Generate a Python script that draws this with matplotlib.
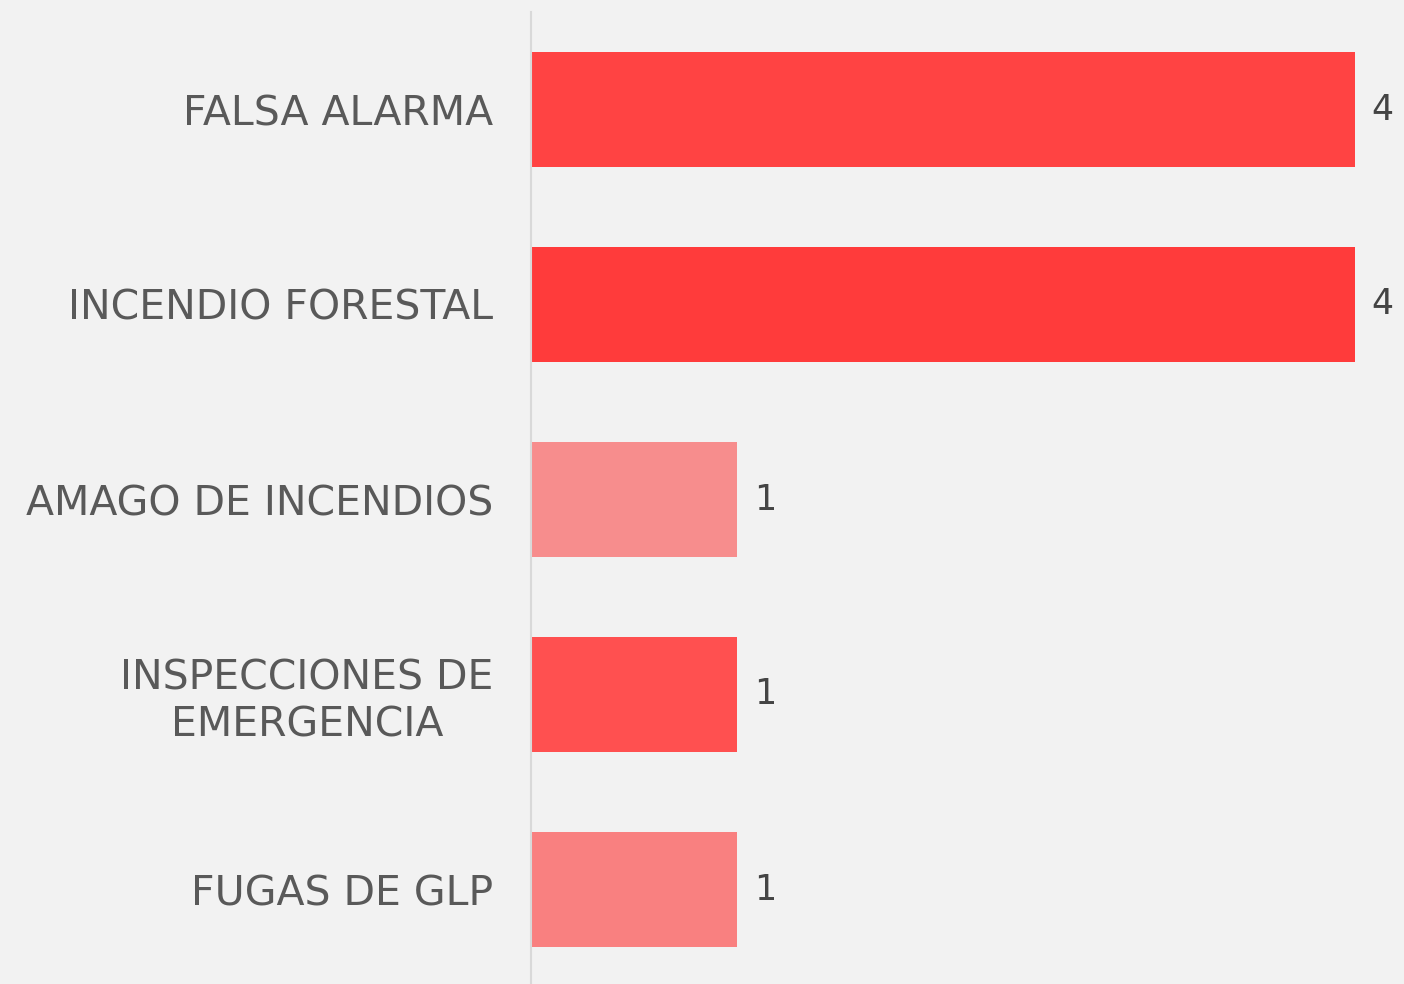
import matplotlib
matplotlib.use("Agg")
import matplotlib.pyplot as plt

categories = ["FALSA ALARMA", "INCENDIO FORESTAL", "AMAGO DE INCENDIOS",
              "INSPECCIONES DE\nEMERGENCIA", "FUGAS DE GLP"]
values = [4, 4, 1, 1, 1]
colors = ["#FF4343", "#FF3B3B", "#F78D8D", "#FF5050", "#F98080"]

BG = "#F2F2F2"
fig = plt.figure(figsize=(14.04, 9.84), dpi=100, facecolor=BG)
ax = fig.add_axes([531/1404, -3/984, 824/1404, 975/984])
ax.set_facecolor(BG)

y = list(range(len(categories)))
ax.barh(y, values, height=0.585, color=colors, align="center")
ax.set_xlim(0, 4)
ax.set_ylim(4.5, -0.5)

ax.set_yticks(y)
ax.set_yticklabels(categories, fontsize=29.5, color="#595959", family="DejaVu Sans",
                   multialignment="center", linespacing=1.2)
ax.tick_params(axis="y", length=0, pad=27)
ax.set_xticks([])

for s in ["top", "right", "bottom"]:
    ax.spines[s].set_visible(False)
ax.spines["left"].set_color("#D9D9D9")
ax.spines["left"].set_linewidth(1.5)

for yi, v in zip(y, values):
    ax.annotate(str(v), xy=(v, yi), xytext=(12, 0), textcoords="offset points",
                va="center", ha="left", fontsize=25, color="#444444")

fig.savefig("out.png", dpi=100, facecolor=BG)
